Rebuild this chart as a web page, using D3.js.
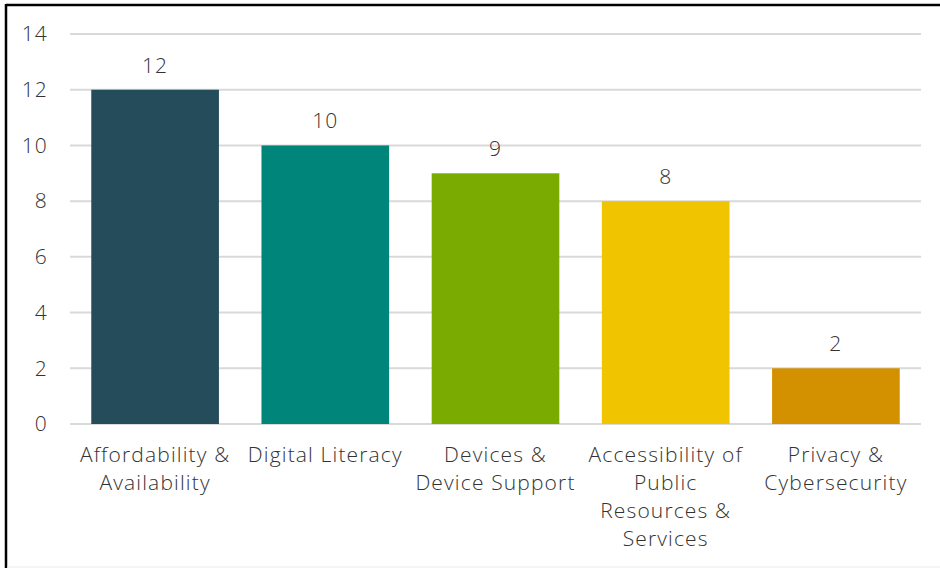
<!DOCTYPE html>
<html>
<head>
<meta charset="utf-8">
<script src="https://cdn.jsdelivr.net/npm/d3@7"></script>
<style>
  html, body { margin: 0; padding: 0; background: #fff; }
  svg { display: block; }
  text { font-family: "Open Sans", "DejaVu Sans", sans-serif; font-weight: 300; fill: #333333; letter-spacing: 1.15px; }
</style>
</head>
<body>
<svg id="chart" width="940" height="568"></svg>
<script>
const categories = [
  ["Affordability &", "Availability"],
  ["Digital Literacy"],
  ["Devices &", "Device Support"],
  ["Accessibility of", "Public", "Resources &", "Services"],
  ["Privacy &", "Cybersecurity"]
];
const values = [12, 10, 9, 8, 2];
const colors = ["#244C5A", "#00857A", "#7AAB00", "#F1C400", "#D39100"];
const yTicks = [0, 2, 4, 6, 8, 10, 12, 14];

(function draw() {
  const svg = d3.select("#chart");
  const W = 940, H = 568;

  // outer frame: dark top and left edges, faint bottom edge
  svg.append("line").attr("x1", 6).attr("x2", W).attr("y1", 5).attr("y2", 5)
    .attr("stroke", "#000").attr("stroke-width", 2.5);
  svg.append("line").attr("x1", 6).attr("x2", 6).attr("y1", 4).attr("y2", H)
    .attr("stroke", "#000").attr("stroke-width", 2.5);
  svg.append("line").attr("x1", 7).attr("x2", W).attr("y1", H - 1).attr("y2", H - 1)
    .attr("stroke", "#ececec").attr("stroke-width", 1);

  const m = { left: 70, right: 921, top: 34, bottom: 424 };
  const x = d3.scaleBand().domain(d3.range(values.length)).range([m.left, m.right])
    .paddingInner(0.25).paddingOuter(0.125);
  const y = d3.scaleLinear().domain([0, 14]).range([m.bottom, m.top]);

  // gridlines
  svg.append("g").selectAll("line").data(yTicks).join("line")
    .attr("x1", m.left).attr("x2", m.right)
    .attr("y1", d => y(d)).attr("y2", d => y(d))
    .attr("stroke", "#d9d9d9").attr("stroke-width", 2);

  // y axis labels
  const yAxis = d3.axisLeft(y).tickValues(yTicks).tickSize(0).tickPadding(0);
  const gy = svg.append("g").attr("transform", `translate(${m.left - 22},0)`).call(yAxis);
  gy.select(".domain").remove();
  gy.selectAll("text").attr("font-size", 21).attr("fill", "#333333")
    .attr("font-family", "'Open Sans', 'DejaVu Sans', sans-serif");

  // bars
  svg.append("g").selectAll("rect").data(values).join("rect")
    .attr("x", (d, i) => x(i)).attr("width", x.bandwidth())
    .attr("y", d => y(d)).attr("height", d => y(0) - y(d))
    .attr("fill", (d, i) => colors[i]);

  // value labels
  svg.append("g").selectAll("text").data(values).join("text")
    .attr("x", (d, i) => x(i) + x.bandwidth() / 2)
    .attr("y", d => y(d) - 17)
    .attr("text-anchor", "middle").attr("font-size", 21)
    .text(d => d);

  // category labels
  const cg = svg.append("g").selectAll("text").data(categories).join("text")
    .attr("x", (d, i) => x(i) + x.bandwidth() / 2)
    .attr("y", y(0) + 38)
    .attr("text-anchor", "middle").attr("font-size", 21);
  cg.selectAll("tspan").data(d => d).join("tspan")
    .attr("x", function () { return this.parentNode.getAttribute("x"); })
    .attr("dy", (d, i) => i === 0 ? 0 : 28)
    .text(d => d);
})();
</script>
</body>
</html>
